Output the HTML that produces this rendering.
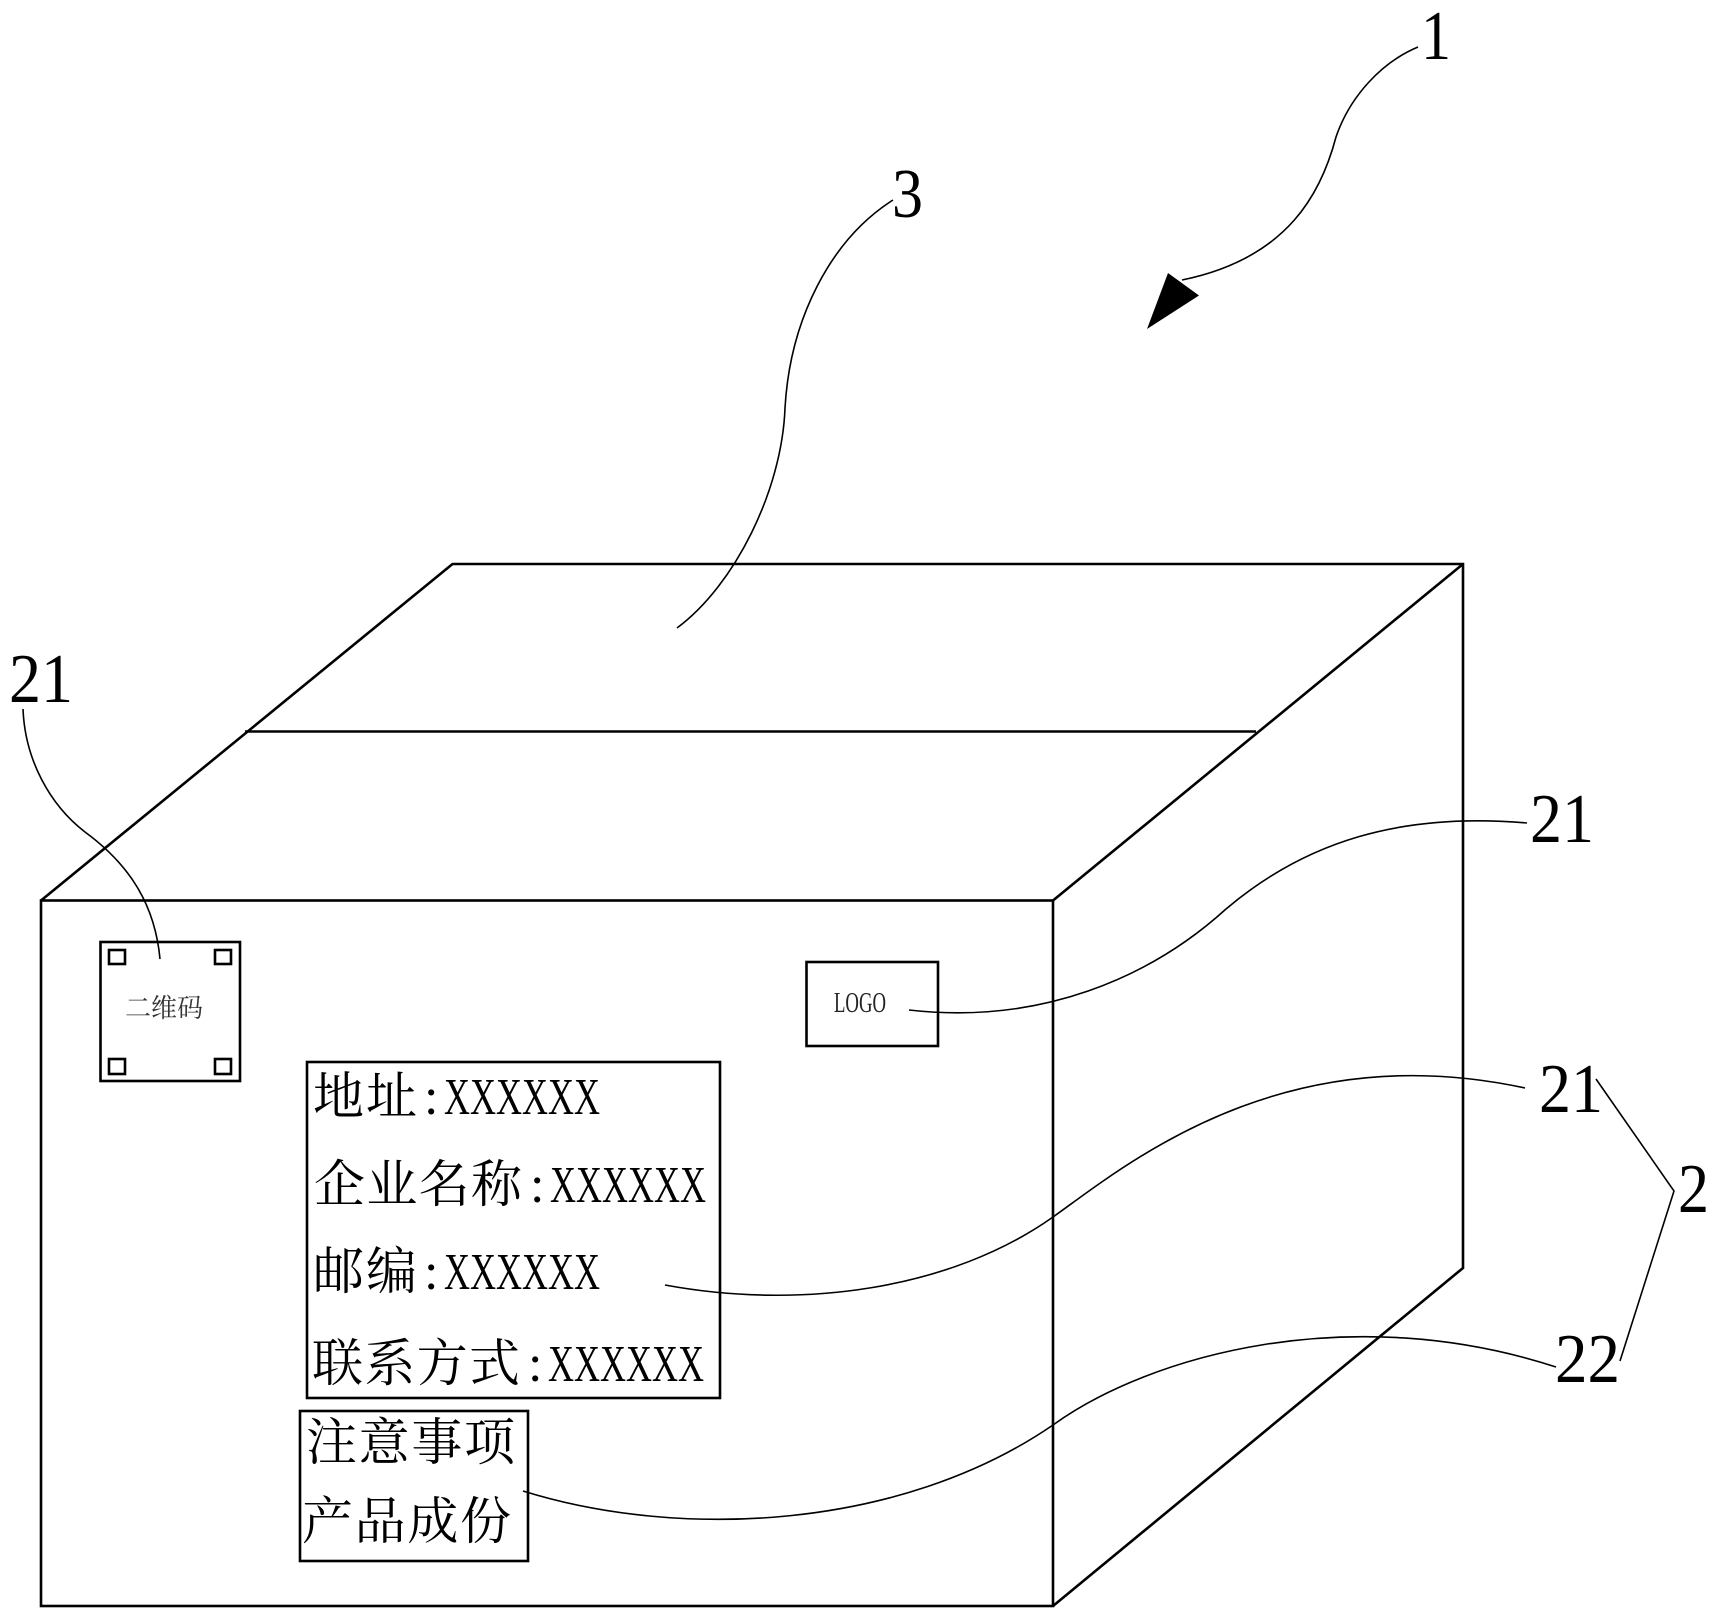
<!DOCTYPE html>
<html><head><meta charset="utf-8"><style>
html,body{margin:0;padding:0;background:#fff}
svg{display:block}
.n{font-family:"Liberation Serif",serif;font-size:70px;fill:#000}
.c{font-family:"Liberation Serif","Noto Serif CJK SC",serif;font-size:51px;fill:#000}
.x{font-family:"Liberation Serif",serif;font-size:52px;fill:#000}
</style></head><body>
<svg width="1718" height="1618" viewBox="0 0 1718 1618" xmlns="http://www.w3.org/2000/svg">
<rect width="1718" height="1618" fill="#fff"/>
<g fill="none" stroke="#000" stroke-width="2.6">
<rect x="41" y="900.5" width="1012" height="705.5"/>
<path d="M41 900.5L452.5 564H1463V1268L1053 1606"/>
<path d="M1053 900.5L1463 564"/>
<path d="M245 731.5H1256"/>
<rect x="100.5" y="942" width="139.5" height="139"/>
<rect x="109" y="950" width="16" height="14"/>
<rect x="215" y="950" width="16" height="14"/>
<rect x="109" y="1059" width="16" height="15"/>
<rect x="215" y="1059" width="16" height="15"/>
<rect x="806.5" y="962" width="131.5" height="84"/>
<rect x="307" y="1062" width="413" height="336"/>
<rect x="300" y="1411" width="228" height="150"/>
</g>
<g fill="none" stroke="#000" stroke-width="1.6">
<path d="M1418 47C1382 62 1350 96 1336 137C1322 190 1290 258 1182 280"/>
<path d="M893 200C830 240 790 320 785 408C782 490 735 585 677 628"/>
<path d="M23 709C25 760 50 805 85 832C130 865 155 905 160 959"/>
<path d="M1527 823C1400 812 1305 842 1226 909C1150 978 1040 1025 909 1010"/>
<path d="M665 1285C800 1310 950 1290 1053 1217C1125 1166 1280 1035 1525 1088"/>
<path d="M523 1491C680 1540 900 1530 1053 1425C1150 1355 1350 1300 1556 1367"/>
<path d="M1596 1079L1674 1191L1620 1361"/>
</g>
<polygon points="1168,273 1199,295.5 1147,329" fill="#000"/>
<text class="n" x="1421" y="59" textLength="30" lengthAdjust="spacingAndGlyphs">1</text>
<text class="n" x="892" y="217" textLength="31" lengthAdjust="spacingAndGlyphs">3</text>
<text class="n" x="9" y="702" textLength="64" lengthAdjust="spacingAndGlyphs">21</text>
<text class="n" x="1530" y="842" textLength="64" lengthAdjust="spacingAndGlyphs">21</text>
<text class="n" x="1539" y="1112" textLength="64" lengthAdjust="spacingAndGlyphs">21</text>
<text class="n" x="1678" y="1212" textLength="31" lengthAdjust="spacingAndGlyphs">2</text>
<text class="n" x="1555" y="1382" textLength="65" lengthAdjust="spacingAndGlyphs">22</text>
<text x="125" y="1017" font-family="'Liberation Serif','Noto Serif CJK SC',serif" font-size="26" fill="#333">二维码</text>
<text x="834" y="1012" font-family="'Liberation Serif',serif" font-size="28" fill="#222" textLength="52" lengthAdjust="spacingAndGlyphs">LOGO</text>
<text class="c" x="313" y="1114" textLength="104">地址</text><text class="x" x="424" y="1114">:</text><text class="x" x="444" y="1114" textLength="156" lengthAdjust="spacingAndGlyphs">XXXXXX</text>
<text class="c" x="314" y="1202" textLength="208">企业名称</text><text class="x" x="530" y="1202">:</text><text class="x" x="550" y="1202" textLength="156" lengthAdjust="spacingAndGlyphs">XXXXXX</text>
<text class="c" x="313" y="1289" textLength="104">邮编</text><text class="x" x="424" y="1289">:</text><text class="x" x="444" y="1289" textLength="156" lengthAdjust="spacingAndGlyphs">XXXXXX</text>
<text class="c" x="312" y="1381" textLength="208">联系方式</text><text class="x" x="528" y="1381">:</text><text class="x" x="548" y="1381" textLength="156" lengthAdjust="spacingAndGlyphs">XXXXXX</text>
<text class="c" x="306" y="1460" textLength="209">注意事项</text>
<text class="c" x="302" y="1539" textLength="209">产品成份</text>
</svg>
</body></html>
